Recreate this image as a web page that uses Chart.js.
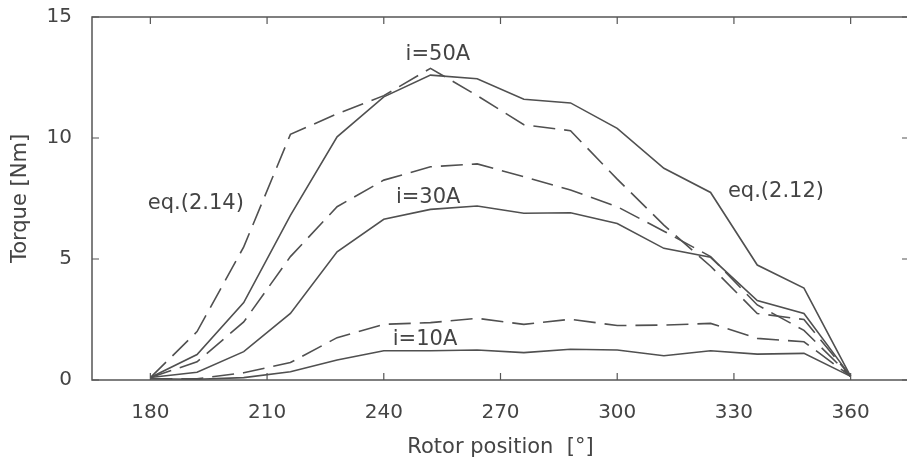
<!DOCTYPE html>
<html><head><meta charset="utf-8">
<script src="https://cdn.jsdelivr.net/npm/chart.js@4.4.0/dist/chart.umd.min.js"></script>
<style>
html,body{margin:0;padding:0;overflow:hidden;background:#fff;width:907px;height:462px}
#wrap{width:916px;height:462px}
</style></head>
<body><div id="wrap"><canvas id="c" width="916" height="462"></canvas></div>
<script>
// ---- data ----
const rotorPosition = [180,192,204,216,228,240,252,264,276,288,300,312,324,336,348,360];
const xTickValues = [180,210,240,270,300,330,360];
const yTickValues = [0,5,10,15];

// solid lines: eq.(2.12)
const eq212_50A = [0.1,1.05,3.2,6.8,10.05,11.7,12.6,12.45,11.6,11.45,10.4,8.75,7.75,4.75,3.8,0.15];
const eq212_30A = [0.1,0.32,1.17,2.75,5.3,6.64,7.05,7.19,6.89,6.91,6.47,5.44,5.07,3.28,2.75,0.15];
const eq212_10A = [0.05,0.03,0.1,0.34,0.83,1.21,1.21,1.24,1.13,1.27,1.24,1.0,1.21,1.07,1.1,0.15];
// dashed lines: eq.(2.14)
const eq214_50A = [0.1,2.0,5.5,10.15,11.0,11.75,12.88,11.75,10.55,10.3,8.3,6.4,4.7,2.75,2.5,0.15];
const eq214_30A = [0.1,0.75,2.4,5.1,7.16,8.26,8.81,8.93,8.4,7.85,7.16,6.15,5.1,3.1,2.05,0.15];
const eq214_10A = [0.05,0.05,0.3,0.72,1.75,2.3,2.37,2.55,2.3,2.51,2.25,2.27,2.34,1.72,1.58,0.15];

const noteTexts = ['i=50A','i=30A','i=10A','eq.(2.14)','eq.(2.12)'];
const noteX = [253.9,251.4,250.6,191.7,340.8];
const noteY = [13.43,7.52,1.69,7.31,7.77];

const xTitle = 'Rotor position  [°]';
const yTitle = 'Torque [Nm]';

// ---- chart ----
const LINE = '#505050';
const toPts = arr => arr.map((v,i)=>({x:rotorPosition[i], y:v}));
function ds(arr, dashed){
  return {data:toPts(arr), borderColor:LINE, borderWidth:1.6, pointRadius:0,
          tension:0, fill:false, borderDash: dashed ? [22,9] : []};
}

const framePlugin = {
  id:'frame',
  afterDraw(chart){
    const {ctx, chartArea:a, scales:{x,y}} = chart;
    ctx.save();
    ctx.strokeStyle = '#555';
    ctx.lineWidth = 1.5;
    ctx.strokeRect(a.left, a.top, a.right-a.left, a.bottom-a.top);
    ctx.lineWidth = 1.2;
    const L = 7;
    ctx.beginPath();
    xTickValues.forEach(v=>{
      const px = x.getPixelForValue(v);
      ctx.moveTo(px, a.bottom); ctx.lineTo(px, a.bottom-L);
      ctx.moveTo(px, a.top); ctx.lineTo(px, a.top+L);
    });
    yTickValues.forEach(v=>{
      const py = y.getPixelForValue(v);
      ctx.moveTo(a.left, py); ctx.lineTo(a.left+L, py);
      ctx.moveTo(a.right, py); ctx.lineTo(a.right-L, py);
    });
    ctx.stroke();
    // annotations
    ctx.fillStyle = '#444';
    ctx.font = '21px "DejaVu Sans"';
    ctx.textAlign = 'center';
    ctx.textBaseline = 'middle';
    noteTexts.forEach((t,i)=>{
      ctx.fillText(t, x.getPixelForValue(noteX[i]), y.getPixelForValue(noteY[i]));
    });
    ctx.restore();
  }
};

new Chart(document.getElementById('c'), {
  type:'line',
  data:{datasets:[ds(eq212_50A,false), ds(eq214_50A,true), ds(eq212_30A,false),
                  ds(eq214_30A,true), ds(eq212_10A,false), ds(eq214_10A,true)]},
  options:{
    responsive:false, animation:false, devicePixelRatio:1,
    layout:{padding:{top:17,right:7,left:0,bottom:0}},
    plugins:{legend:{display:false}, tooltip:{enabled:false}},
    scales:{
      x:{type:'linear', min:165, max:375,
         afterBuildTicks:s=>{s.ticks = xTickValues.map(v=>({value:v}));},
         afterFit:s=>{s.height = 82; s.paddingLeft = 0; s.paddingRight = 0;},
         grid:{display:false}, border:{display:false},
         ticks:{padding:13, color:'#444', font:{family:'DejaVu Sans', size:20}, maxRotation:0, autoSkip:false},
         title:{display:true, text:xTitle, color:'#444', font:{family:'DejaVu Sans', size:21}, padding:{top:0,bottom:2}}},
      y:{type:'linear', min:0, max:15,
         afterBuildTicks:s=>{s.ticks = yTickValues.map(v=>({value:v}));},
         afterFit:s=>{s.width = 92; s.paddingTop = 0; s.paddingBottom = 0;},
         grid:{display:false}, border:{display:false},
         ticks:{padding:12, color:'#444', font:{family:'DejaVu Sans', size:20}},
         title:{display:true, text:yTitle, color:'#444', font:{family:'DejaVu Sans', size:21}, padding:{top:8,bottom:0}}}
    }
  },
  plugins:[framePlugin]
});
</script>
</body></html>
